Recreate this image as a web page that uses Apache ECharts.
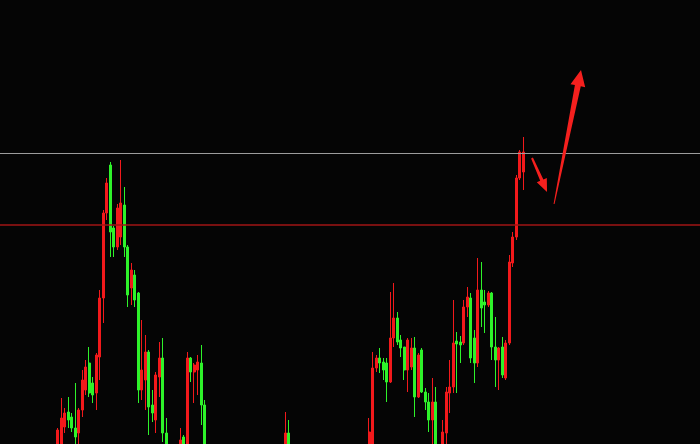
<!DOCTYPE html>
<html>
<head>
<meta charset="utf-8">
<script src="https://cdn.jsdelivr.net/npm/echarts@6/dist/echarts.min.js"></script>
<style>
html,body{margin:0;padding:0;background:#050505;}
#chart{width:700px;height:444px;}
</style>
</head>
<body>
<div id="chart"></div>
<script>
// number of bar slots on the time axis
const slotCount = 200;
// visible candles: [slot, open, close, low, high]
const candles = [
  [16,-6,14,-11,16],[17,-6,26,-11,46],[18,17,31,11,36],[19,32,24,16,47],[20,27,16,12,31],
  [21,16,7,-2,61],[22,11,34,0,36],[23,34,64,27,74],[24,54,77,49,84],[25,81,51,47,97],
  [26,61,49,41,67],[27,51,89,34,91],[28,87,146,64,154],[29,146,231,121,234],[30,231,261,224,266],
  [31,279,212,187,282],[32,216,197,187,218],[33,197,236,194,240],[34,207,241,199,284],[35,239,197,187,257],
  [36,197,149,137,199],[37,156,174,139,181],[38,169,144,137,174],[39,151,54,41,152],[40,54,74,44,124],
  [41,64,92,34,109],[42,92,37,9,94],[43,39,31,22,54],[44,24,69,11,72],[45,67,86,47,102],
  [46,86,11,2,106],[47,11,-6,-11,26],
  [51,-11,4,-16,16],[52,7,-11,-16,9],[53,-11,86,-16,92],[54,86,72,62,87],[55,72,79,41,81],
  [56,74,82,49,89],[57,81,39,19,99],[58,39,-6,-11,44],
  [81,-11,11,-16,32],[82,11,-11,-16,24],
  [105,-11,12,-16,26],[106,-6,76,-11,92],[107,76,86,72,89],[108,86,81,71,96],[109,82,74,64,86],
  [110,81,62,42,86],[111,62,106,61,152],[112,106,126,97,161],[113,126,102,99,132],[114,104,96,87,109],
  [115,97,74,64,97],[116,74,104,52,106],[117,77,96,74,106],[118,96,47,27,107],[119,47,89,46,91],
  [120,94,52,51,96],[121,52,42,34,56],[122,42,24,12,51],[123,24,42,0,66],[124,42,-6,-11,57],
  [126,-6,12,-11,24],[127,11,52,-4,57],[128,51,57,31,84],[129,57,101,51,144],[130,103,100,51,112],
  [131,102,99,81,108],[132,101,137,99,144],[133,137,147,127,157],[134,146,86,81,151],[135,106,81,61,114],
  [136,81,154,77,186],[137,154,136,117,182],[138,142,139,111,154],[139,139,151,137,153],[140,151,97,84,152],
  [141,97,84,57,127],[142,84,96,54,97],[143,97,69,66,107],[144,66,101,64,104],[145,101,182,99,189],
  [146,181,207,177,212],[147,207,266,204,269],[148,266,292,264,294],[149,272,292,254,307]
];
// horizontal levels
const upperLevel = 290.5;
const lowerLevel = 219;
// arrows: [tailSlot, tailValue, tipSlot, tipValue]
const arrows = [
  [151.5, 286, 155.8, 252],
  [157.8, 240, 165.5, 374]
];

const categories = [];
for (let i = 0; i < slotCount; i++) categories.push(String(i + 1));
const kData = categories.map(() => '-');
candles.forEach(c => { kData[c[0]] = [c[1], c[2], c[3], c[4]]; });

const RED = '#f2191b', GREEN = '#2ef22a';
const arrowSizes = [
  {tailW: 2, neckW: 3.5, headW: 11, headLen: 13},
  {tailW: 1, neckW: 6, headW: 15, headLen: 16}
];

function renderArrow(params, api) {
  const t = api.coord([api.value(0), api.value(1)]);
  const h = api.coord([api.value(2), api.value(3)]);
  const s = arrowSizes[params.dataIndex];
  const dx = h[0] - t[0], dy = h[1] - t[1];
  const L = Math.hypot(dx, dy);
  const ux = dx / L, uy = dy / L, nx = -uy, ny = ux;
  const nk = L - s.headLen;
  const cx = t[0] + ux * nk, cy = t[1] + uy * nk;
  const pts = [
    [t[0] + nx * s.tailW / 2, t[1] + ny * s.tailW / 2],
    [cx + nx * s.neckW / 2, cy + ny * s.neckW / 2],
    [cx + nx * s.headW / 2, cy + ny * s.headW / 2],
    [h[0], h[1]],
    [cx - nx * s.headW / 2, cy - ny * s.headW / 2],
    [cx - nx * s.neckW / 2, cy - ny * s.neckW / 2],
    [t[0] - nx * s.tailW / 2, t[1] - ny * s.tailW / 2]
  ];
  return {type: 'polygon', shape: {points: pts}, style: {fill: '#f5201e'}};
}

function levelSeries(value, color, width) {
  return {
    type: 'line',
    xAxisIndex: 1,
    data: [[-0.5, value], [slotCount - 0.5, value]],
    symbol: 'none',
    silent: true,
    clip: false,
    z: 4,
    color: color,
    lineStyle: {color: color, width: width, type: 'solid', opacity: 1},
    emphasis: {disabled: true}
  };
}

const chart = echarts.init(document.getElementById('chart'), null, {renderer: 'canvas'});
chart.setOption({
  animation: false,
  backgroundColor: '#050505',
  grid: {left: 0, right: 0, top: 0, bottom: 0},
  xAxis: [
    {type: 'category', data: categories, show: false, boundaryGap: true},
    {type: 'value', min: -0.5, max: slotCount - 0.5, show: false}
  ],
  yAxis: {type: 'value', min: 0, max: 444, show: false, splitLine: {show: false}},
  series: [
    {
      type: 'candlestick',
      data: kData,
      barWidth: 2.9,
      clip: true,
      itemStyle: {color: RED, color0: GREEN, borderColor: RED, borderColor0: GREEN, borderWidth: 1}
    },
    levelSeries(upperLevel, '#9c9c9c', 1),
    levelSeries(lowerLevel, '#a01414', 1.6),
    {
      type: 'custom',
      xAxisIndex: 1,
      renderItem: renderArrow,
      data: arrows,
      silent: true,
      z: 5
    }
  ]
});
</script>
</body>
</html>
